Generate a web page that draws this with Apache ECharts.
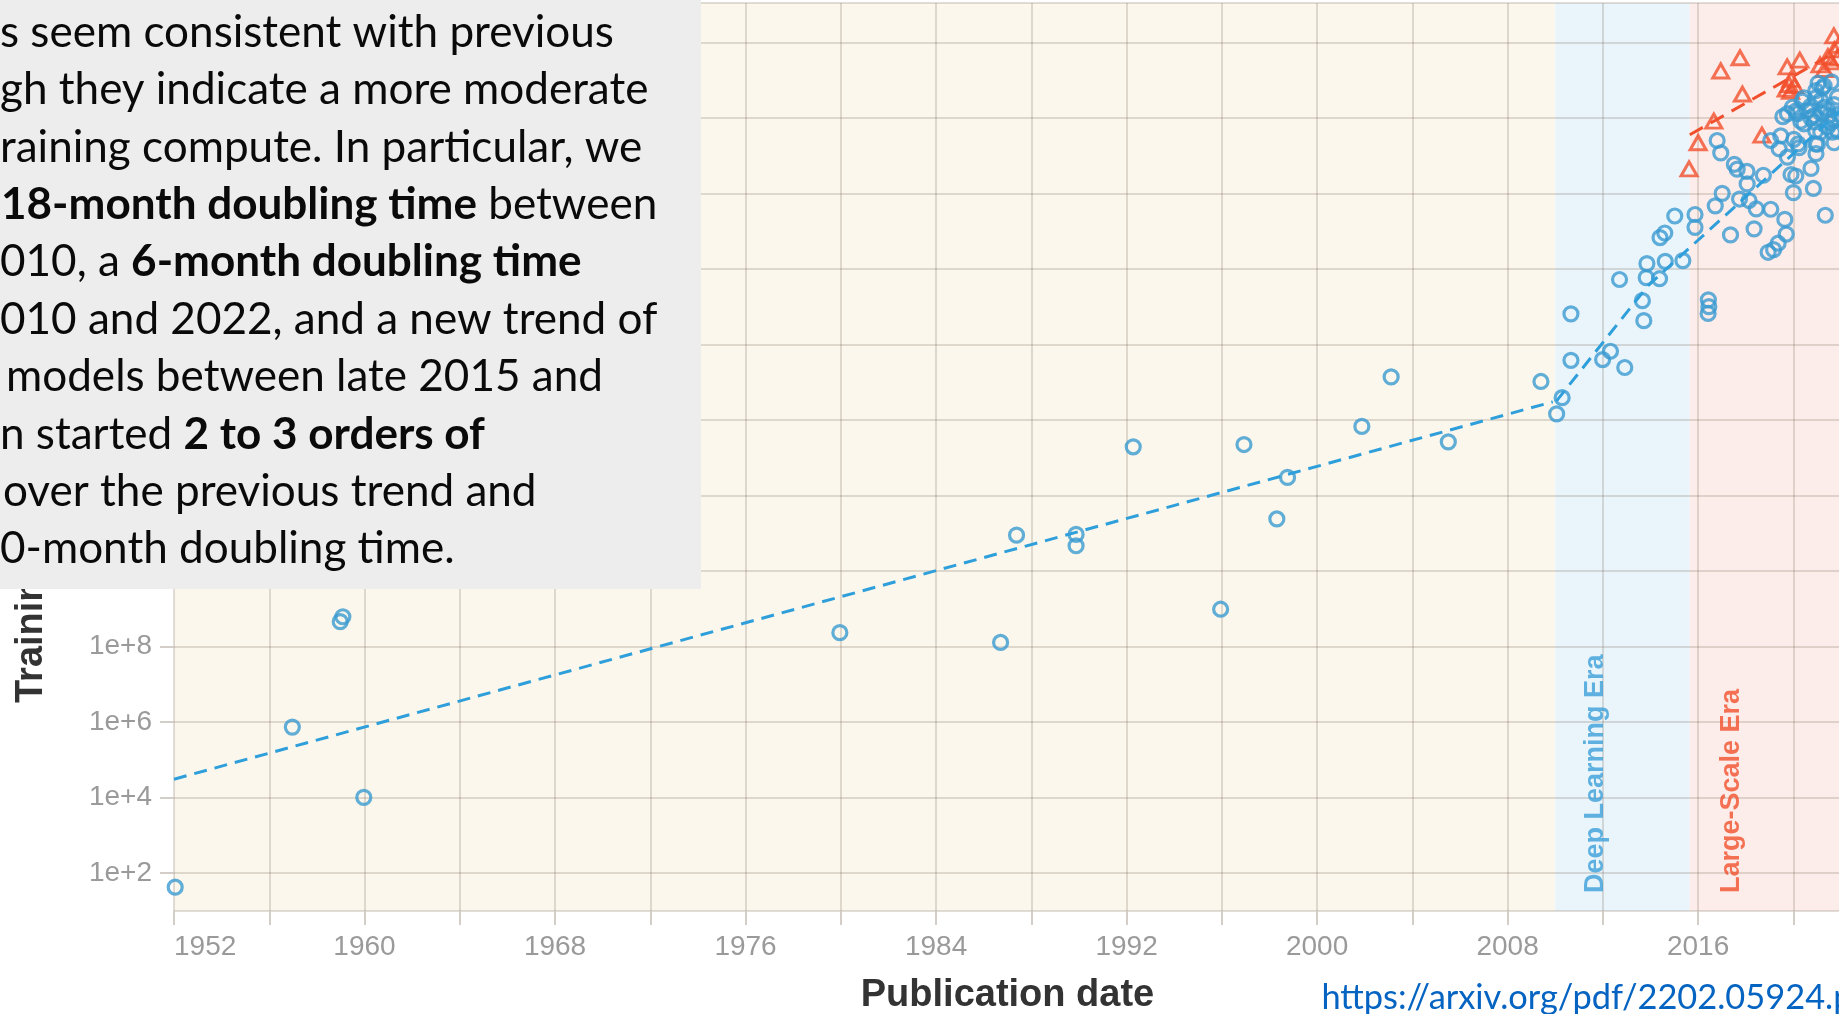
<!DOCTYPE html>
<html>
<head>
<meta charset="utf-8">
<script src="https://cdn.jsdelivr.net/npm/echarts@6/dist/echarts.min.js"></script>
<style>
html,body{margin:0;padding:0;background:#ffffff;overflow:hidden;}
#c{width:1839px;height:1014px;}
</style>
</head>
<body>
<div id="c"></div>
<script>
// ---------------- DATA ----------------
// Blue circles: publication year and log10(training FLOPs)
const blueYears = [
 1952.05,1956.97,1958.98,1959.09,1959.97,1979.96,1986.71,1987.38,1989.88,1989.88,
 1992.28,1995.95,1996.93,1998.31,1998.76,2001.88,2003.11,2005.51,2009.40,
 2010.06,2010.29,2010.66,2010.66,2011.99,2012.32,2012.92,2012.70,2013.66,2013.72,
 2013.85,2013.82,2014.38,2014.62,2014.40,2014.60,2015.02,2015.36,2015.87,2015.87,
 2016.43,2016.45,2016.42,
 2016.72,2017.01,2017.36,2017.74,2018.06,2018.14,2018.44,2018.35,2019.05,2019.64,
 2019.70,2019.36,2019.17,2018.94,2016.80,2016.95,2017.52,2017.64,2018.05,2018.74,
 2019.90,2020.10,2020.00,2020.84,2020.74,2020.95,2019.05,2020.02,2021.34,2019.40,
 2019.75,2020.20,2020.94,
 2021.04,2021.29,2020.94,2020.45,2020.38,2020.73,2019.96,2019.75,2019.56,2020.10,
 2020.17,2020.59,2020.87,2021.29,2021.50,2021.71,2021.43,2021.64,2021.15,2020.87,
 2020.45,2020.31,2020.73,2021.15,2021.43,2021.71,2021.57,2021.85,2020.94,2019.47,
 2020.24,2021.01,2021.71,2021.15,2021.22,2020.94,2021.60,2021.85,2021.90
];
const blueLogCompute = [
 1.63,5.87,8.66,8.79,4.01,8.37,8.11,10.95,10.97,10.67,
 13.29,8.99,13.35,11.38,12.48,13.83,15.14,13.42,15.02,
 14.16,14.59,15.58,16.81,15.60,15.82,15.39,17.72,17.16,16.63,
 18.14,17.77,17.74,18.20,18.83,18.95,19.40,18.22,19.44,19.10,
 17.18,17.00,16.82,
 19.67,20.00,18.90,19.85,20.25,19.81,19.59,19.06,19.58,19.31,
 18.92,18.68,18.51,18.44,21.40,21.07,20.77,20.64,20.58,20.48,
 20.50,20.46,20.02,20.13,20.66,21.05,21.40,21.43,19.42,21.18,
 20.96,21.31,21.31,
 22.92,22.85,22.72,22.53,22.44,22.31,22.28,22.11,22.03,22.18,
 22.11,22.19,22.06,22.28,22.06,21.93,21.75,21.62,21.62,21.89,
 21.84,21.91,22.00,22.13,22.22,22.35,21.87,21.65,21.65,21.52,
 21.21,21.30,21.34,22.46,22.79,22.53,22.95,22.55,22.10
];
// Red triangles (large-scale models)
const redYears = [
 2015.62,2016.00,2016.66,2016.95,2017.76,2017.86,2018.68,2019.74,2020.27,2019.90,
 2019.70,2019.88,2019.82,2020.05,2021.12,2021.45,2021.70,2021.72,2021.90,2021.30,
 2021.60,2021.85
];
const redLogCompute = [
 20.65,21.34,21.91,23.24,23.59,22.63,21.54,23.35,23.53,23.02,
 22.76,22.70,22.88,22.85,23.40,23.62,24.17,23.80,23.92,23.28,
 23.48,23.58
];
// Trend lines
const trendPreDLYears = [1952, 2009.9];
const trendPreDLLog = [4.49, 14.48];
const trendDLYears = [2010.05, 2013.9, 2022];
const trendDLLog = [14.50, 17.56, 22.2];
const trendLSYears = [2015.65, 2022];
const trendLSLog = [21.55, 23.82];
// Eras
const eraNames = ['Deep Learning Era', 'Large-Scale Era'];
const eraStarts = [1952, 2010.0, 2015.65];
const eraEnds = [2010.0, 2015.65, 2022];
// Axes
const xTickLabels = [1952, 1960, 1968, 1976, 1984, 1992, 2000, 2008, 2016];
const yTickExponents = [2, 4, 6, 8, 10, 12, 14, 16, 18, 20, 22, 24];
// Overlay text
const noteLines = [
 [['n','s seem consistent with previous']],
 [['n','gh they indicate a more moderate']],
 [['n','raining compute. In particular, we']],
 [['b','18-month doubling time'],['n',' between']],
 [['n','010, a '],['b','6-month doubling time']],
 [['n','010 and 2022, and a new trend of']],
 [['n','models between late 2015 and']],
 [['n','n started '],['b','2 to 3 orders of']],
 [['n','over the previous trend and']],
 [['n','0-month doubling time.']]
];
const sourceUrl = 'https://arxiv.org/pdf/2202.05924.pdf';

// ---------------- LAYOUT / STYLE ----------------
const mctx = document.createElement('canvas').getContext('2d');
function fitSize(text, weight, family, target) {
  mctx.font = weight + ' 100px ' + family;
  return 100 * target / mctx.measureText(text).width;
}
const fsNote = fitSize('s seem consistent with previous', 'normal', 'Lato', 614);
const fsUrl = fitSize('https://arxiv.org/pdf/2202.05924.', 'normal', 'Lato', 512);
const noteX = [0, 0, 0, 1, 0, 0, 6, 0, 3, 0];

const BLUE = '#3A9AD1', BLUE_LINE = '#2E9FDA', RED = '#F1502D';
const GRID = 'rgba(115,100,80,0.21)';
const LABEL = { fontFamily: 'Liberation Sans', fontSize: 28, color: '#9A9A9A' };

const zip = (xs, ys) => xs.map((x, i) => [x, ys[i]]);

const noteGraphics = noteLines.map((parts, i) => {
  const baseline = 49.5 + i * 57.42;
  return {
    type: 'text', z: 101, silent: true,
    x: noteX[i], y: baseline - 0.387 * fsNote,
    style: {
      text: parts.map(p => '{' + p[0] + '|' + p[1] + '}').join(''),
      rich: {
        n: { fontFamily: 'Lato', fontSize: fsNote, fontWeight: 'normal', fill: '#0A0A0A' },
        b: { fontFamily: 'Lato', fontSize: fsNote, fontWeight: 'bold', fill: '#0A0A0A' }
      },
      align: 'left', textAlign: 'left', verticalAlign: 'middle', textVerticalAlign: 'middle'
    }
  };
});

const chart = echarts.init(document.getElementById('c'), null, { renderer: 'canvas', width: 1839, height: 1014 });
chart.setOption({
  animation: false,
  backgroundColor: '#ffffff',
  grid: { left: 174, right: -2, top: 3, bottom: 103, containLabel: false, outerBoundsMode: 'none' },
  xAxis: {
    type: 'value', min: 1952, max: 2022, interval: 4, z: 3,
    name: 'Publication date', nameLocation: 'middle', nameGap: 66,
    nameTextStyle: { fontFamily: 'Liberation Sans', fontWeight: 'bold', fontSize: 38, color: '#333333' },
    axisLine: { show: false },
    axisTick: { show: true, length: 14, lineStyle: { color: '#D3CFC8', width: 2 } },
    splitLine: { show: true, lineStyle: { color: GRID, width: 2 } },
    axisLabel: Object.assign({}, LABEL, {
      margin: 22, alignMinLabel: 'left',
      formatter: v => xTickLabels.indexOf(v) >= 0 ? String(v) : ''
    })
  },
  yAxis: {
    type: 'value', min: 1, max: 25.04, splitNumber: 12, minInterval: 2, maxInterval: 2, z: 3,
    axisLine: { show: false },
    axisTick: { show: true, length: 14, lineStyle: { color: '#D3CFC8', width: 2 } },
    splitLine: { show: true, lineStyle: { color: GRID, width: 2 } },
    axisLabel: Object.assign({}, LABEL, {
      margin: 22, showMinLabel: false, showMaxLabel: false,
      formatter: v => yTickExponents.indexOf(v) >= 0 ? '1e+' + v : ''
    })
  },
  series: [
    {
      type: 'scatter', data: [[1952, 1]], symbolSize: 0, silent: true, z: 1,
      markArea: {
        silent: true, z: 1,
        data: [
          [{ xAxis: eraStarts[0], itemStyle: { color: '#FBF7EC' } }, { xAxis: eraEnds[0] }],
          [{ xAxis: eraStarts[1], itemStyle: { color: '#EAF5FB' } }, { xAxis: eraEnds[1] }],
          [{ xAxis: eraStarts[2], itemStyle: { color: '#FDEDEA' } }, { xAxis: eraEnds[2] }]
        ]
      }
    },
    {
      type: 'scatter', name: 'Large-scale', z: 5, silent: true,
      symbol: 'triangle', symbolSize: [16, 14],
      itemStyle: { color: 'rgba(0,0,0,0)', borderColor: RED, borderWidth: 3 },
      data: zip(redYears, redLogCompute)
    },
    {
      type: 'scatter', name: 'Models', z: 6, silent: true,
      symbol: 'circle', symbolSize: 14,
      itemStyle: { color: 'rgba(0,0,0,0)', borderColor: BLUE, borderWidth: 3.2 },
      data: zip(blueYears, blueLogCompute)
    },
    {
      type: 'line', z: 7, silent: true, symbol: 'none',
      lineStyle: { color: BLUE_LINE, width: 3, type: [13, 8] },
      data: zip(trendPreDLYears, trendPreDLLog)
    },
    {
      type: 'line', z: 7, silent: true, symbol: 'none',
      lineStyle: { color: BLUE_LINE, width: 3, type: [13, 8] },
      data: zip(trendDLYears, trendDLLog)
    },
    {
      type: 'line', z: 7, silent: true, symbol: 'none',
      lineStyle: { color: RED, width: 3, type: [15, 9] },
      data: zip(trendLSYears, trendLSLog)
    },
    {
      type: 'scatter', z: 8, silent: true, symbolSize: 0,
      data: [
        { value: [2011.70, 1.477], label: { formatter: eraNames[0], color: '#3A9FD8' } },
        { value: [2017.39, 1.477], label: { formatter: eraNames[1], color: '#F1502D' } }
      ],
      label: {
        show: true, position: 'inside', rotate: 90, align: 'left', verticalAlign: 'middle',
        fontFamily: 'Liberation Sans', fontWeight: 'bold', fontSize: 27
      }
    }
  ],
  graphic: [
    {
      type: 'text', z: 50, silent: true, x: 31.8, y: 703, rotation: Math.PI / 2,
      style: { text: 'Training compute (FLOPs)', fontFamily: 'Liberation Sans', fontWeight: 'bold', fontSize: 38,
               fill: '#333333', align: 'left', textAlign: 'left', verticalAlign: 'middle', textVerticalAlign: 'middle' }
    },
    {
      type: 'text', z: 50, silent: true, x: 1321.4, y: 1010.8 - 0.387 * fsUrl,
      style: { text: sourceUrl, fontFamily: 'Lato', fontSize: fsUrl, fill: '#0563C1',
               align: 'left', textAlign: 'left', verticalAlign: 'middle', textVerticalAlign: 'middle' }
    },
    { type: 'rect', z: 100, silent: true, shape: { x: 0, y: 0, width: 701, height: 589 }, style: { fill: '#EDEDED' } }
  ].concat(noteGraphics)
});
</script>
</body>
</html>
